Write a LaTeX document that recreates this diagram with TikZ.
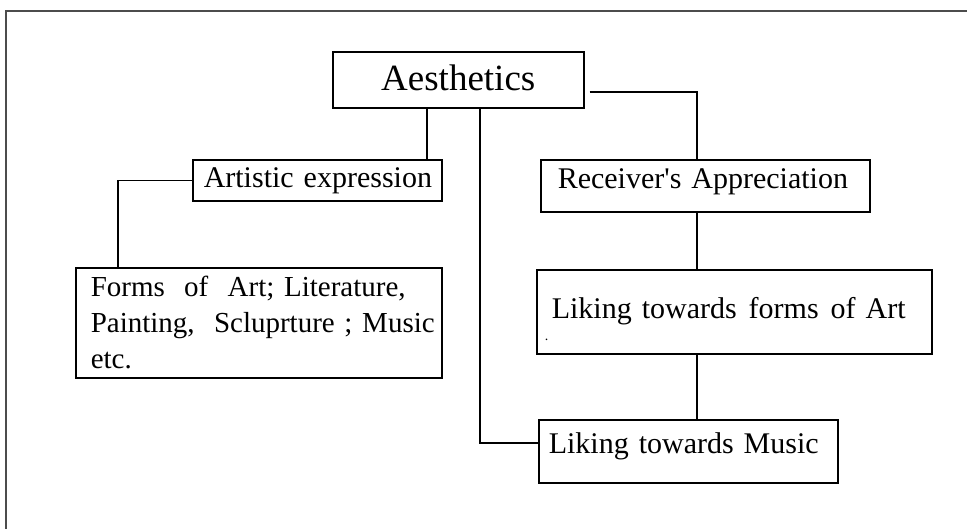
\documentclass[tikz,border=0pt]{standalone}
\usepackage{fontspec}
\setmainfont{Liberation Serif}
\begin{document}
\begin{tikzpicture}[x=1pt,y=-1pt,
        box/.style={draw,line width=1.5pt,anchor=north west,inner ysep=0pt,align=left,font=\fontsize{30}{36}\selectfont},
        link/.style={line width=1.5pt}]
        \useasboundingbox (0,0) rectangle (967,528);
        \draw[black!70,line width=2pt] (6,540) |- (980,11);
        \node[box,align=center,font=\fontsize{37}{44}\selectfont,inner xsep=10pt,text width=231pt,text height=39pt,text depth=17pt] (aes) at (332,51) {Aesthetics};
        \node[box,inner xsep=11pt,text width=227pt,text height=28pt,text depth=13pt] (art) at (192,159) {\mbox{Artistic expression}};
        \node[box,font=\fontsize{29}{36}\selectfont,inner xsep=15pt,text width=336pt,text height=29pt,text depth=81pt] (forms) at (75,267) {\mbox{Forms\ \ of\ \ Art; Literature,}\\\mbox{Painting,\ \ Scluprture ; Music}\\etc.};
        \node[box,inner xsep=17pt,text width=295pt,text height=29pt,text depth=23pt] (rec) at (540,159) {\mbox{Receiver\textquotesingle s Appreciation}};
        \node[box,inner xsep=15pt,text width=365pt,text height=49pt,text depth=35pt] (likart) at (536,269) {\mbox{Liking towards\hspace{12pt}forms\hspace{12pt}of Art}\\[-14pt]{\fontsize{14}{14}\selectfont\hspace*{-7pt}.}};
        \node[box,inner xsep=10pt,text width=279pt,text height=34pt,text depth=29pt] (mus) at (538,419) {\mbox{Liking towards\hspace{10pt}Music}};
        \draw[link] ([xshift=95pt]aes.south west) -- ([xshift=95pt]aes.south west |- art.north);
        \draw[link] ([xshift=148pt]aes.south west) |- ([yshift=8.5pt]mus.west);
        \draw[link] ([xshift=5pt,yshift=-12pt]aes.east) -| ([xshift=-8.5pt]rec.north);
        \draw[link] (art.west) -| ([xshift=43pt]forms.north west);
        \draw[link] ([xshift=-8.5pt]rec.south) -- ([xshift=-8.5pt]rec.south |- likart.north);
        \draw[link] ([xshift=161pt]likart.south west) -- ([xshift=161pt]likart.south west |- mus.north);
      \end{tikzpicture}
\end{document}
